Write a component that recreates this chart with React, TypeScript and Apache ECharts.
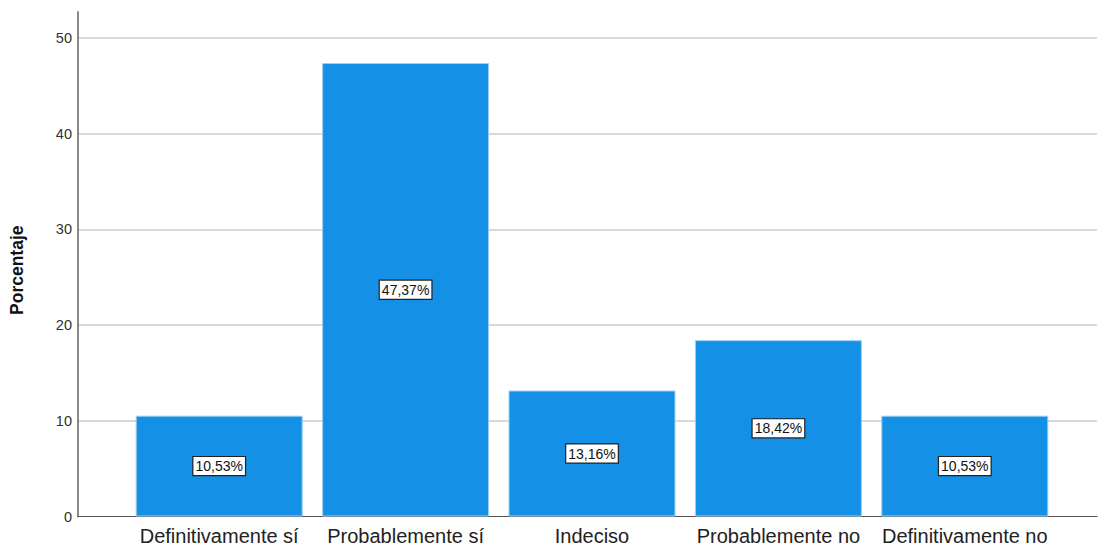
import React, { useEffect, useRef } from "react";
import * as echarts from "echarts";

const categories = ["Definitivamente sí", "Probablemente sí", "Indeciso", "Probablemente no", "Definitivamente no"];
const percentages = [10.53, 47.37, 13.16, 18.42, 10.53];
const yTicks = [0, 10, 20, 30, 40, 50];
const yAxisName = "Porcentaje";

const FONT = "'Liberation Sans', Arial, sans-serif";
const Y_MAX = 52.7;

export default function App() {
  const ref = useRef<HTMLDivElement>(null);
  useEffect(() => {
    if (!ref.current) return;
    const chart = echarts.init(ref.current, undefined, { renderer: "svg" });
    const gridTop = 12;
    const gridBottom = 30.5;
    chart.setOption({
      animation: false,
      backgroundColor: "#ffffff",
      grid: [
        { left: 74, right: 2, top: gridTop, bottom: gridBottom },
        { left: 126, right: 41, top: gridTop, bottom: gridBottom },
      ],
      xAxis: [
        {
          gridIndex: 0,
          type: "value",
          min: 0,
          max: 1,
          axisLine: { show: true, lineStyle: { color: "#555555", width: 1 } },
          axisTick: { show: false },
          axisLabel: { show: false },
          splitLine: { show: false },
        },
        {
          gridIndex: 1,
          type: "category",
          data: categories,
          axisLine: { show: false },
          axisTick: { show: false },
          axisLabel: { color: "#222222", fontSize: 20, fontFamily: FONT, margin: 9, interval: 0 },
          splitLine: { show: false },
        },
      ],
      yAxis: [
        {
          gridIndex: 0,
          type: "value",
          min: 0,
          max: Y_MAX,
          interval: 10,
          name: yAxisName,
          nameLocation: "middle",
          nameGap: 52,
          nameTextStyle: {
            color: "#111111",
            fontSize: 17.5,
            fontWeight: "bold",
            fontFamily: FONT,
            padding: [0, 12, 0, 0],
          },
          axisLine: { show: true, lineStyle: { color: "#8a8a8a", width: 2 } },
          axisTick: { show: false },
          axisLabel: {
            color: "#333333",
            fontSize: 14.5,
            fontFamily: FONT,
            margin: 6,
            showMaxLabel: false,
            formatter: (v: number) => (yTicks.includes(v) ? String(v) : ""),
          },
          splitLine: {
            show: true,
            showMinLine: false,
            showMaxLine: false,
            lineStyle: { color: "#d9d9d9", width: 2 },
          },
        },
        {
          gridIndex: 1,
          type: "value",
          min: 0,
          max: Y_MAX,
          interval: 10,
          show: false,
          splitLine: { show: false },
        },
      ],
      series: [
        {
          type: "bar",
          xAxisIndex: 1,
          yAxisIndex: 1,
          data: percentages,
          barWidth: "89.6%",
          itemStyle: { color: "#1491e6", borderColor: "#9fd0f4", borderWidth: 1 },
          label: {
            show: true,
            position: "inside",
            formatter: (p: any) => p.value.toFixed(2).replace(".", ",") + "%",
            color: "#111111",
            fontSize: 14,
            fontFamily: FONT,
            backgroundColor: "#ffffff",
            borderColor: "#222222",
            borderWidth: 1.2,
            padding: [3, 2, 1, 2],
          },
        },
      ],
    });
    return () => chart.dispose();
  }, []);
  return (
    <div
      ref={ref}
      style={{ position: "fixed", left: 0, top: 0, width: 1099, height: 547 }}
    />
  );
}
